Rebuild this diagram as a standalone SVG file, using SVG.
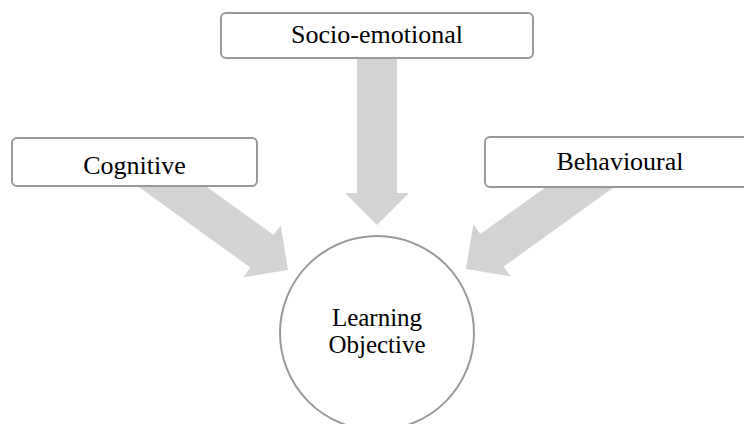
<svg xmlns="http://www.w3.org/2000/svg" width="744" height="424" viewBox="0 0 744 424">
  <defs>
    <style>
      .arrow { fill: #d3d3d3; stroke: none; }
      .box { fill: #ffffff; stroke: #999999; stroke-width: 2; }
      .circ { fill: #ffffff; stroke: #999999; stroke-width: 2; }
      .lbl { font-family: "Liberation Serif", "Times New Roman", serif; font-size: 26px; fill: #000000; text-anchor: middle; }
      .lbl2 { font-size: 25px; }
    </style>
    <polygon id="arr" points="-190,-20 -32,-20 -32,-32 0,0 -32,32 -32,20 -190,20"/>
  </defs>
  <rect width="744" height="424" fill="#ffffff"/>
  <g id="connectors">
    <polygon class="arrow" points="357,40 397,40 397,193 409,193 377,225 345,193 357,193"/>
    <use href="#arr" class="arrow" transform="translate(288,270) rotate(35.8)"/>
    <use href="#arr" class="arrow" transform="translate(466,269) rotate(144.3)"/>
  </g>
  <g id="socio-emotional">
    <rect class="box" x="221" y="13" width="312" height="45" rx="5"/>
    <text class="lbl" x="377" y="43">Socio-emotional</text>
  </g>
  <g id="cognitive">
    <rect class="box" x="12" y="138" width="245" height="48" rx="5"/>
    <text class="lbl" x="134.5" y="174">Cognitive</text>
  </g>
  <g id="behavioural">
    <rect class="box" x="485" y="137" width="270" height="50" rx="5"/>
    <text class="lbl" x="620" y="170">Behavioural</text>
  </g>
  <g id="learning-objective">
    <circle class="circ" cx="377" cy="333" r="97"/>
    <text class="lbl lbl2" x="377" y="326">Learning</text>
    <text class="lbl lbl2" x="377" y="353">Objective</text>
  </g>
</svg>
